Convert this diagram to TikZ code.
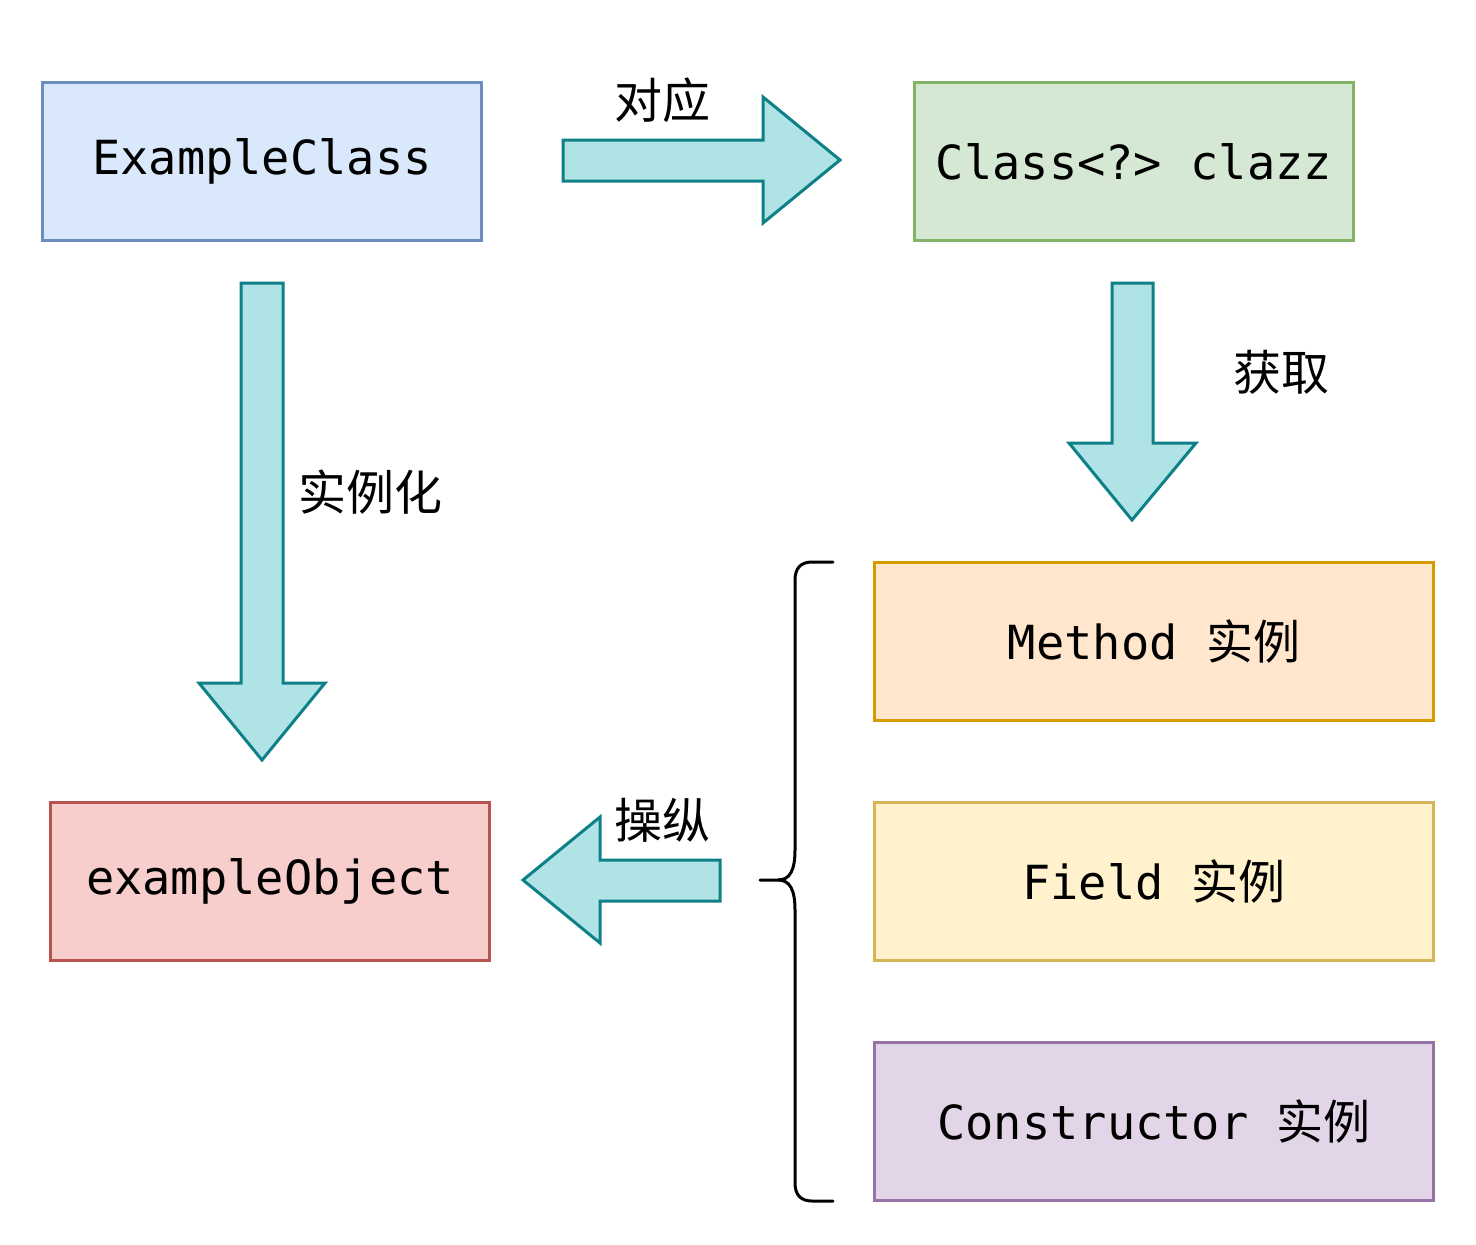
\documentclass[tikz,border=0pt]{standalone}
\usepackage{fontspec}
\setmainfont{DejaVu Sans Mono}
\newfontfamily\cjk{Noto Sans CJK SC}
\usepackage{tikz}
\definecolor{blueFill}{HTML}{DAE8FC}\definecolor{blueLine}{HTML}{6C8EBF}
\definecolor{greenFill}{HTML}{D5E8D4}\definecolor{greenLine}{HTML}{82B366}
\definecolor{redFill}{HTML}{F8CECC}\definecolor{redLine}{HTML}{B85450}
\definecolor{orangeFill}{HTML}{FFE6CC}\definecolor{orangeLine}{HTML}{D79B00}
\definecolor{yellowFill}{HTML}{FFF2CC}\definecolor{yellowLine}{HTML}{D6B656}
\definecolor{purpleFill}{HTML}{E1D5E7}\definecolor{purpleLine}{HTML}{9673A6}
\definecolor{arrowFill}{HTML}{B0E3E6}\definecolor{arrowLine}{HTML}{0E8088}
\tikzset{
  box/.style={draw, line width=1.5pt, minimum width=219.5pt, minimum height=79pt, inner sep=0pt,
    font=\fontsize{23.5}{28}\selectfont},
  widebox/.style={box, minimum width=279.5pt},
  blockarrow/.style={draw=arrowLine, fill=arrowFill, line width=1.5pt, line join=miter},
  lbl/.style={font=\cjk\fontsize{24}{28}\selectfont, inner sep=0pt},
  bracket/.style={line width=1.5pt, line cap=round}
}
\begin{document}
\begin{tikzpicture}[x=0.5pt, y=-0.5pt]
\useasboundingbox (0,0) rectangle (1476,1244);
% boxes
\node [box, fill=blueFill, draw=blueLine] (exampleClass) at (262,161.5) {ExampleClass};
\node [box, fill=greenFill, draw=greenLine] (clazz) at (1134,161.5) {Class<?> clazz};
\node [box, fill=redFill, draw=redLine] (exampleObject) at (270,881.5) {exampleObject};
\node [widebox, fill=orangeFill, draw=orangeLine] (method) at (1154,641.5) {Method {\cjk 实例}};
\node [widebox, fill=yellowFill, draw=yellowLine] (field) at (1154,881.5) {Field {\cjk 实例}};
\node [widebox, fill=purpleFill, draw=purpleLine] (constructor) at (1154,1121.5) {Constructor {\cjk 实例}};
% arrows
\draw [blockarrow] (563,140) -- (763,140) -- (763,97) -- (840,160) -- (763,223) -- (763,181) -- (563,181) -- cycle;
\node [lbl] (duiying) at (662,100) {对应};
\draw [blockarrow] (241,283) -- (283,283) -- (283,683) -- (325,683) -- (262,760) -- (199,683) -- (241,683) -- cycle;
\node [lbl] (shilihua) at (370,492) {实例化};
\draw [blockarrow] (1112,283) -- (1153,283) -- (1153,443) -- (1196,443) -- (1132,520) -- (1069,443) -- (1112,443) -- cycle;
\node [lbl] (huoqu) at (1281,372) {获取};
\draw [blockarrow] (720,860) -- (600,860) -- (600,817) -- (523,880) -- (600,943) -- (600,901) -- (720,901) -- cycle;
\node [lbl] (caozong) at (662,820) {操纵};
% brace
\coordinate (braceTop) at (833,562);
\coordinate (braceTip) at (760,880);
\coordinate (braceBot) at (833,1201);
\draw [bracket] (braceTop) -- (812,562) .. controls (801,562) and (795,568) .. (795,580) -- (795,850)
  .. controls (795,870) and (790,880) .. (778,880) -- (braceTip);
\draw [bracket] (778,880) .. controls (790,880) and (795,890) .. (795,910) -- (795,1183)
  .. controls (795,1195) and (801,1201) .. (812,1201) -- (braceBot);
\end{tikzpicture}
\end{document}
